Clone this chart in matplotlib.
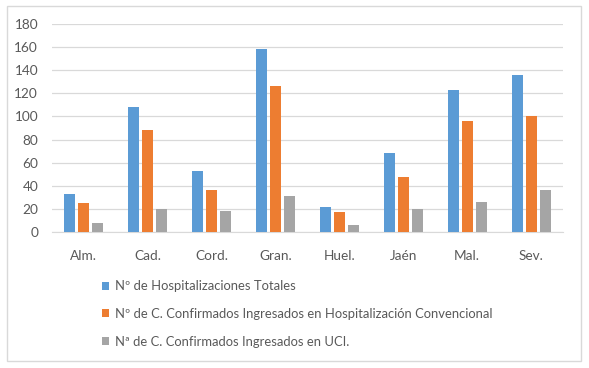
import matplotlib
matplotlib.use('Agg')
import matplotlib.pyplot as plt
import numpy as np
from matplotlib.patches import Rectangle

# Data
provincias = ['Alm.', 'Cad.', 'Cord.', 'Gran.', 'Huel.', 'Jaén', 'Mal.', 'Sev.']
hosp_totales = [33, 108, 53, 158, 22, 68, 123, 136]
hosp_convencional = [25, 88, 36, 126, 17, 48, 96, 100]
ingresados_uci = [8, 20, 18, 31, 6, 20, 26, 36]
series_labels = ['Nº de Hospitalizaciones Totales',
                 'Nº de C. Confirmados Ingresados en Hospitalización Convencional',
                 'Nª de C. Confirmados Ingresados en UCI.']
colors = ['#5B9BD5', '#ED7D31', '#A5A5A5']
yticks = list(range(0, 181, 20))

plt.rcParams['font.family'] = ['Lato', 'DejaVu Sans']
txt_color = '#595959'

W, H = 589, 368
fig = plt.figure(figsize=(W / 100, H / 100), dpi=100)

# outer chart frame
fig.patches.append(Rectangle((7 / W, 1 - 361 / H), 574 / W, 355 / H,
                             transform=fig.transFigure, fill=False,
                             edgecolor='#d9d9d9', linewidth=1))

ax = fig.add_axes([52 / W, 1 - 232 / H, 511 / W, 208 / H])
x = np.arange(len(provincias))
width = 0.172
offset = 0.219
for i, vals in enumerate([hosp_totales, hosp_convencional, ingresados_uci]):
    ax.bar(x + (i - 1) * offset, vals, width, color=colors[i],
           label=series_labels[i], zorder=3)

ax.set_xlim(-0.5, len(provincias) - 0.5)
ax.set_ylim(0, 180)
ax.set_yticks(yticks)
ax.set_xticks(x)
ax.set_xticklabels(provincias)
ax.grid(axis='y', color='#d9d9d9', linewidth=0.9, zorder=0)
for s in ['top', 'right', 'left']:
    ax.spines[s].set_visible(False)
ax.spines['bottom'].set_color('#d9d9d9')
ax.tick_params(axis='both', length=0, colors=txt_color, labelsize=9.8)
ax.tick_params(axis='x', pad=13)
ax.tick_params(axis='y', pad=10)

handles, labels = ax.get_legend_handles_labels()
fig.legend(handles, labels, loc='upper left', bbox_to_anchor=(97 / W, 1 - 275 / H),
           frameon=False, fontsize=9.4, labelcolor=txt_color,
           handlelength=0.55, handleheight=0.55, handletextpad=0.45,
           labelspacing=1.2, borderaxespad=0)

fig.savefig('out.png', dpi=100)
